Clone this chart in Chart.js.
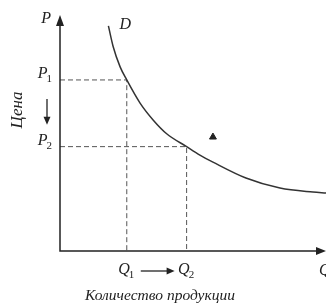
<!DOCTYPE html>
<html>
<head>
	<title>Demand curve</title>
	<script src="https://cdn.jsdelivr.net/npm/chart.js@4/dist/chart.umd.min.js"></script>
	<style>
		html, body { margin: 0; padding: 0; background: #fff; }
		#wrap { width: 326px; height: 307px; }
	</style>
</head>
<body>
	<div id="wrap"><canvas id="chart"></canvas></div>
	<script type="text/javascript">
		// demand curve D (quantity, price)
		var curveQ = [1.82, 2.00, 2.26, 2.51, 3.01, 3.50, 4.01, 4.76, 5.26, 5.75, 6.99, 8.27, 9.51, 10.0];
		var curveP = [9.62, 8.73, 7.87, 7.31, 6.32, 5.60, 5.01, 4.46, 4.10, 3.80, 3.12, 2.69, 2.52, 2.48];

		// the two price / quantity points
		var qValues = [2.51, 4.76];
		var pValues = [7.31, 4.46];
		var qLabels = ['Q', 'Q'];
		var pLabels = ['P', 'P'];
		var subs = ['1', '2'];

		var markerQ = [5.75];
		var markerP = [4.87];

		var axisTitleX = 'Количество продукции';
		var axisTitleY = 'Цена';

		var curveData = curveQ.map(function(q, i){ return {x: q, y: curveP[i]}; });

		var dashSets = [];
		for (var i = 0; i < qValues.length; i++) {
			dashSets.push({
				data: [{x: 0, y: pValues[i]}, {x: qValues[i], y: pValues[i]}, {x: qValues[i], y: 0}],
				showLine: true,
				borderColor: '#555',
				borderWidth: 1,
				borderDash: [5, 3],
				pointRadius: 0,
				fill: false
			});
		}

		var serif = 'italic 16px "Liberation Serif", "DejaVu Serif", serif';

		function subLabel(ctx, base, sub, x, y, align) {
			ctx.font = serif;
			var w1 = ctx.measureText(base).width;
			ctx.font = '11px "Liberation Serif", serif';
			var w2 = ctx.measureText(sub).width;
			var start = align === 'center' ? x - (w1 + w2) / 2 : (align === 'right' ? x - w1 - w2 : x);
			ctx.textAlign = 'left';
			ctx.textBaseline = 'middle';
			ctx.font = serif;
			ctx.fillText(base, start, y);
			ctx.font = '11px "Liberation Serif", serif';
			ctx.fillText(sub, start + w1 - 1, y + 5);
		}

		var axesPlugin = {
			id: 'axes',
			afterDatasetsDraw: function(chart){
				var ctx = chart.ctx;
				var xs = chart.scales.x, ys = chart.scales.y;
				var x0 = xs.getPixelForValue(0), y0 = ys.getPixelForValue(0);
				var top = chart.chartArea.top, right = chart.chartArea.right;
				ctx.save();
				ctx.strokeStyle = '#222';
				ctx.fillStyle = '#222';
				ctx.lineWidth = 1.5;
				// axes
				ctx.beginPath();
				ctx.moveTo(x0, top + 4);
				ctx.lineTo(x0, y0);
				ctx.lineTo(right - 4, y0);
				ctx.stroke();
				// arrow heads
				ctx.beginPath();
				ctx.moveTo(x0, top - 2);
				ctx.lineTo(x0 - 4, top + 9);
				ctx.lineTo(x0 + 4, top + 9);
				ctx.closePath();
				ctx.fill();
				ctx.beginPath();
				ctx.moveTo(right, y0);
				ctx.lineTo(right - 10, y0 - 4);
				ctx.lineTo(right - 10, y0 + 4);
				ctx.closePath();
				ctx.fill();

				// labels
				ctx.font = serif;
				ctx.textBaseline = 'middle';
				ctx.textAlign = 'right';
				ctx.fillText('P', x0 - 9, top + 2);
				ctx.textAlign = 'left';
				ctx.fillText('D', xs.getPixelForValue(curveQ[0]) + 11, ys.getPixelForValue(curveP[0]) - 1);
				ctx.fillText('Q', right - 7, y0 + 20);

				for (var i = 0; i < qValues.length; i++) {
					subLabel(ctx, pLabels[i], subs[i], x0 - 7, ys.getPixelForValue(pValues[i]) - 6, 'right');
					subLabel(ctx, qLabels[i], subs[i], xs.getPixelForValue(qValues[i]), y0 + 19, 'center');
				}

				// arrow Q1 -> Q2
				var qa = xs.getPixelForValue(qValues[0]) + 14, qb = xs.getPixelForValue(qValues[1]) - 13;
				var ay = y0 + 20;
				ctx.lineWidth = 1.3;
				ctx.beginPath();
				ctx.moveTo(qa, ay);
				ctx.lineTo(qb - 5, ay);
				ctx.stroke();
				ctx.beginPath();
				ctx.moveTo(qb + 1, ay);
				ctx.lineTo(qb - 7, ay - 3.5);
				ctx.lineTo(qb - 7, ay + 3.5);
				ctx.closePath();
				ctx.fill();

				// arrow P1 -> P2 (down)
				var ax = x0 - 13;
				var pa = ys.getPixelForValue(pValues[0]) + 19, pb = ys.getPixelForValue(pValues[1]) - 23;
				ctx.beginPath();
				ctx.moveTo(ax, pa);
				ctx.lineTo(ax, pb - 5);
				ctx.stroke();
				ctx.beginPath();
				ctx.moveTo(ax, pb + 1);
				ctx.lineTo(ax - 3.5, pb - 7);
				ctx.lineTo(ax + 3.5, pb - 7);
				ctx.closePath();
				ctx.fill();

				// axis titles
				ctx.font = 'italic 15.5px "Liberation Serif", serif';
				ctx.textAlign = 'center';
				ctx.fillText(axisTitleX, 160, y0 + 45);
				ctx.translate(18, 110);
				ctx.rotate(-Math.PI / 2);
				ctx.font = 'italic 17px "Liberation Serif", serif';
				ctx.fillText(axisTitleY, 0, 0);
				ctx.restore();
			}
		};

		var chart = new Chart(document.getElementById('chart'), {
			type: 'scatter',
			data: {
				datasets: [{
					data: curveData,
					showLine: true,
					borderColor: '#333',
					borderWidth: 1.5,
					tension: 0.4,
					cubicInterpolationMode: 'monotone',
					pointRadius: 0,
					fill: false
				}, {
					data: markerQ.map(function(q, i){ return {x: q, y: markerP[i]}; }),
					pointStyle: 'triangle',
					pointRadius: 4,
					backgroundColor: '#222',
					borderColor: '#222',
					borderWidth: 1
				}].concat(dashSets)
			},
			options: {
				responsive: true,
				maintainAspectRatio: false,
				animation: false,
				layout: { autoPadding: false, padding: { left: 60, top: 17, right: 0, bottom: 56 } },
				plugins: { legend: { display: false }, tooltip: { enabled: false } },
				scales: {
					x: { type: 'linear', min: 0, max: 10, display: false },
					y: { type: 'linear', min: 0, max: 10, display: false }
				}
			},
			plugins: [axesPlugin]
		});
	</script>
</body>
</html>
